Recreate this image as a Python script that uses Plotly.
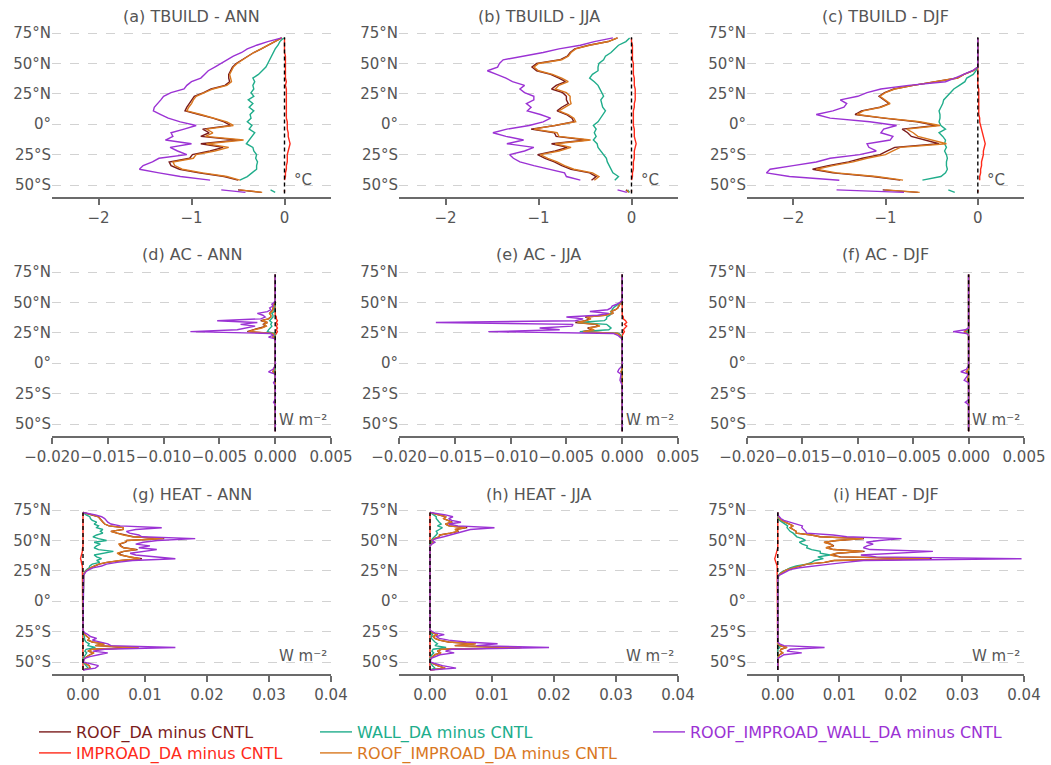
import plotly.graph_objects as go

# ---------------- data ----------------
NAMES = ["ROOF_DA minus CNTL", "IMPROAD_DA minus CNTL", "WALL_DA minus CNTL",
         "ROOF_IMPROAD_DA minus CNTL", "ROOF_IMPROAD_WALL_DA minus CNTL"]
TITLES = ["(a) TBUILD - ANN", "(b) TBUILD - JJA", "(c) TBUILD - DJF",
          "(d) AC - ANN", "(e) AC - JJA", "(f) AC - DJF",
          "(g) HEAT - ANN", "(h) HEAT - JJA", "(i) HEAT - DJF"]
UNITS = ["°C", "W m⁻²", "W m⁻²"]
LAT_TICKS = [-50, -25, 0, 25, 50, 75]
LAT_LABELS = ["50°S", "25°S", "0°", "25°N", "50°N", "75°N"]
X_TICKS = [[-2, -1, 0],
           [-0.02, -0.015, -0.01, -0.005, 0.0, 0.005],
           [0.0, 0.01, 0.02, 0.03, 0.04]]
X_RANGES = [[-2.5, 0.5], [-0.02, 0.005], [-0.005, 0.04]]
ZERO_SPANS = [[-57, 71.5], [-56, 73], [-56.5, 73]]

LAT_T = [-56, -54, -50, -46, -43, -40, -37, -34, -31, -28, -25, -22, -19, -16, -13, -10,
         -7, -4, -1, 2, 5, 8, 11, 14, 17, 20, 23, 26, 29, 32, 35, 38, 41, 44, 47, 50,
         53, 56, 59, 62, 65, 68, 71]

a_roof = [-0.25, -0.50, None, -0.50, -0.65, -0.92, -1.13, -1.22, -1.24, -1.02, -0.99, -0.80, -0.66,
          -0.90, -0.50, -0.90, -0.81, -0.88, -0.58, -0.65, -0.77, -0.92, -1.07,
          -1.05, -1.02, -1.00, -0.97, -0.87, -0.79, -0.64, -0.59, -0.60, -0.60,
          -0.58, -0.56, -0.52, -0.46, -0.39, -0.33, -0.25, -0.18, -0.10, -0.03]
a_improad = [0.0, 0.0, None, 0.0, 0.01, 0.01, 0.02, 0.02, 0.03, 0.03, 0.03, 0.04, 0.05,
             0.06, 0.05, 0.04, 0.04, 0.03, 0.03, 0.03, 0.02, 0.02, 0.02,
             0.02, 0.02, 0.02, 0.02, 0.02, 0.02, 0.01, 0.02, 0.01, 0.01,
             0.01, 0.01, 0.01, 0.01, 0.01, 0.0, 0.0, 0.0, 0.0, 0.0]
a_wall = [-0.10, -0.15, None, -0.48, -0.40, -0.35, -0.30, -0.30, -0.29, -0.31, -0.30, -0.33, -0.34,
          -0.41, -0.38, -0.36, -0.32, -0.38, -0.35, -0.40, -0.36, -0.37, -0.33,
          -0.38, -0.34, -0.39, -0.33, -0.36, -0.33, -0.34, -0.32, -0.34, -0.28,
          -0.24, -0.20, -0.18, -0.16, -0.14, -0.12, -0.10, -0.07, -0.05, -0.01]
a_roofimp = [-0.24, -0.48, None, -0.48, -0.62, -0.88, -1.10, -1.18, -1.20, -0.98, -0.95, -0.75, -0.60,
             -0.84, -0.44, -0.85, -0.77, -0.84, -0.55, -0.62, -0.75, -0.90, -1.05,
             -1.03, -1.00, -0.98, -0.95, -0.85, -0.77, -0.62, -0.57, -0.58, -0.59,
             -0.57, -0.55, -0.51, -0.45, -0.38, -0.33, -0.25, -0.18, -0.10, -0.03]
a_all = [-0.42, -0.68, None, -0.80, -1.12, -1.35, -1.56, -1.52, -1.42, -1.35, -1.05, -1.15, -1.23,
         -1.00, -1.28, -1.20, -1.22, -1.08, -0.95, -1.12, -1.25, -1.33, -1.41,
         -1.40, -1.36, -1.33, -1.30, -1.22, -1.08, -1.05, -1.00, -0.90, -0.86,
         -0.82, -0.75, -0.68, -0.62, -0.55, -0.46, -0.40, -0.30, -0.18, -0.03]

b_roof = [-0.03, -0.06, None, -0.43, -0.38, -0.45, -0.65, -0.75, -0.83, -0.93, -1.01, -0.82, -0.69,
          -0.86, -0.48, -0.81, -0.83, -1.08, -0.82, -0.62, -0.64, -0.70, -0.80,
          -0.75, -0.68, -0.70, -0.70, -0.74, -0.86, -0.81, -0.71, -0.78, -0.87,
          -1.02, -1.07, -1.02, -0.77, -0.69, -0.66, -0.61, -0.46, -0.25, -0.15]
b_improad = [0.0, 0.0, None, 0.0, 0.01, 0.01, 0.02, 0.02, 0.02, 0.03, 0.03, 0.03, 0.04,
             0.05, 0.04, 0.03, 0.03, 0.03, 0.02, 0.02, 0.02, 0.02, 0.02,
             0.03, 0.03, 0.04, 0.04, 0.04, 0.04, 0.03, 0.03, 0.03, 0.02,
             0.02, 0.02, 0.02, 0.01, 0.01, 0.01, 0.01, 0.01, 0.0, 0.0]
b_wall = [-0.02, -0.04, None, -0.18, -0.14, -0.20, -0.22, -0.24, -0.26, -0.27, -0.30, -0.34, -0.36,
          -0.37, -0.41, -0.38, -0.40, -0.38, -0.41, -0.36, -0.33, -0.30, -0.28,
          -0.31, -0.32, -0.33, -0.30, -0.32, -0.34, -0.36, -0.40, -0.45, -0.42,
          -0.36, -0.36, -0.35, -0.30, -0.28, -0.22, -0.18, -0.14, -0.06, -0.02]
b_roofimp = [-0.03, -0.05, None, -0.40, -0.35, -0.42, -0.62, -0.72, -0.80, -0.90, -0.98, -0.78, -0.65,
             -0.82, -0.44, -0.78, -0.80, -1.05, -0.80, -0.60, -0.62, -0.68, -0.78,
             -0.72, -0.65, -0.66, -0.66, -0.70, -0.82, -0.78, -0.68, -0.75, -0.85,
             -1.00, -1.05, -1.00, -0.75, -0.68, -0.65, -0.60, -0.45, -0.25, -0.15]
b_all = [-0.05, -0.15, None, -0.55, -0.70, -0.72, -0.90, -1.05, -1.20, -1.27, -1.31, -1.15, -1.05,
         -1.34, -1.16, -1.35, -1.49, -1.34, -1.10, -0.95, -0.87, -0.98, -1.12,
         -1.08, -1.13, -1.05, -1.05, -1.15, -1.20, -1.15, -1.28, -1.35, -1.45,
         -1.55, -1.44, -1.42, -1.38, -1.15, -0.95, -0.78, -0.55, -0.40, -0.20]

c_roof = [-0.65, -1.03, None, -0.84, -1.14, -1.57, -1.79, -1.62, -1.40, -1.25, -1.06, -0.98, -0.90,
          -0.42, -0.56, -0.72, -0.76, -0.82, -0.45, -0.66, -1.02, -1.33, -1.26,
          -1.06, -0.96, -1.01, -1.07, -1.01, -0.91, -0.70, -0.45, -0.22, -0.15,
          -0.05, 0.0, 0.0, 0.0, 0.0, 0.0, 0.0, 0.0, 0.0, 0.0]
c_improad = [0.0, 0.0, None, 0.02, 0.02, 0.03, 0.03, 0.04, 0.04, 0.05, 0.06, 0.06, 0.07,
             0.08, 0.07, 0.06, 0.05, 0.04, 0.03, 0.02, 0.02, 0.01, 0.01,
             0.01, 0.01, 0.01, 0.01, 0.01, 0.01, 0.0, 0.0, 0.0, 0.0,
             0.0, 0.0, 0.0, 0.0, 0.0, 0.0, 0.0, 0.0, 0.0, 0.0]
c_wall = [-0.25, -0.32, None, -0.60, -0.40, -0.35, -0.33, -0.34, -0.34, -0.33, -0.34, -0.36, -0.34,
          -0.36, -0.35, -0.38, -0.42, -0.35, -0.40, -0.42, -0.41, -0.41, -0.42,
          -0.40, -0.38, -0.37, -0.33, -0.30, -0.26, -0.20, -0.14, -0.12, -0.05,
          -0.02, 0.0, 0.0, 0.0, 0.0, 0.0, 0.0, 0.0, 0.0, 0.0]
c_roofimp = [-0.63, -1.00, None, -0.81, -1.10, -1.53, -1.75, -1.57, -1.35, -1.20, -1.00, -0.92, -0.84,
             -0.34, -0.48, -0.65, -0.70, -0.77, -0.41, -0.63, -1.00, -1.31, -1.24,
             -1.05, -0.95, -1.00, -1.06, -1.00, -0.90, -0.70, -0.45, -0.22, -0.15,
             -0.05, 0.0, 0.0, 0.0, 0.0, 0.0, 0.0, 0.0, 0.0, 0.0]
c_all = [-0.80, -1.53, None, -1.50, -2.04, -2.29, -2.25, -2.00, -1.75, -1.60, -1.28, -1.10, -1.18,
         -1.20, -0.95, -0.92, -1.05, -1.02, -0.88, -1.17, -1.60, -1.75, -1.57,
         -1.45, -1.42, -1.49, -1.30, -1.20, -1.05, -0.75, -0.35, -0.25, -0.16,
         -0.06, 0.0, 0.0, 0.0, 0.0, 0.0, 0.0, 0.0, 0.0, 0.0]

LAT_AC = [-56, -34, -32, -30, -18, -16, -14, -9, -7, -5, -2, 10, 20, 21.5, 23, 24.5, 26, 27.5,
          29, 30.5, 32, 33.5, 35, 36.5, 38, 39.5, 41, 42.5, 44, 45.5, 47, 48.5, 50, 52, 60, 73]

d_roof = [0.0, 0.0, -0.00005, 0.0, 0.0, -0.00005, 0.0, 0.0, -0.0002, -0.0001, 0.0, 0.0, 0.0,
          -0.0002, -0.0001, -0.0002, -0.0025, -0.002, -0.0013, -0.0008, -0.0011, -0.0007, -0.0013,
          -0.0006, -0.0004, -0.0004, -0.0005, -0.0003, -0.0002, -0.0002, -0.0001, -0.0001, 0.0,
          0.0, 0.0, 0.0]
d_improad = [0.0] * 15 + [0.0001, 0.0002, 0.0001, 0.0002, 0.0001, 0.0002, 0.0001, 0.0002, 0.0001,
                          0.0001] + [0.0] * 11
d_wall = [0.0] * 8 + [-0.0001] + [0.0] * 4 + [
    -0.0001, 0.0, -0.0001, -0.0007, -0.0006, -0.0004, -0.0003, -0.0004, -0.0003, -0.0005,
    -0.0003, -0.0002, -0.0002, -0.0003, -0.0001, -0.0001, -0.0001, 0.0, 0.0, 0.0] + [0.0] * 3
d_roofimp = [0.0, 0.0, -0.00005, 0.0, 0.0, -0.00005, 0.0, 0.0, -0.0002, -0.0001, 0.0, 0.0, 0.0,
             -0.0002, -0.0001, -0.0002, -0.0024, -0.0019, -0.0012, -0.0008, -0.001, -0.0007, -0.0012,
             -0.0006, -0.0004, -0.0004, -0.0005, -0.0003, -0.0002, -0.0002, -0.0001, -0.0001, 0.0,
             0.0, 0.0, 0.0]
d_all = [0.0, 0.0, -0.00015, 0.0, 0.0, -0.00015, 0.0, 0.0, -0.0006, -0.0002, 0.0, 0.0, 0.0,
         -0.0006, -0.0002, -0.0004, -0.0076, -0.0034, -0.0025, -0.0018, -0.0031, -0.0016, -0.0052,
         -0.0013, -0.0009, -0.0011, -0.0016, -0.0007, -0.0004, -0.0005, -0.0002, -0.0003, -0.0001,
         0.0, 0.0, 0.0]

e_roof = [0.0] * 8 + [-0.0001] + [0.0] * 4 + [
    -0.0001, -0.0002, -0.0004, -0.0036, -0.0026, -0.0031, -0.0021, -0.0024, -0.0042, -0.0033,
    -0.0029, -0.0033, -0.0016, -0.0008, -0.001, -0.0006, -0.0004, -0.0003, -0.0002, -0.0001] + [0.0] * 3
e_improad = [0.0] * 15 + [0.0001, 0.0002, 0.0001, 0.0003, 0.0004, 0.0002, 0.0004, 0.0003, 0.0001,
                          0.0001] + [0.0] * 11
e_wall = [0.0] * 13 + [
    -0.0001, -0.0001, -0.0003, -0.0038, -0.0012, -0.001, -0.0012, -0.0014, -0.004, -0.0016,
    -0.0014, -0.0014, -0.0011, -0.001, -0.001, -0.0009, -0.0008, -0.0006, -0.0003, -0.0001] + [0.0] * 3
e_roofimp = [0.0] * 8 + [-0.0001] + [0.0] * 4 + [
    -0.0001, -0.0002, -0.0004, -0.0035, -0.0025, -0.003, -0.002, -0.0023, -0.004, -0.0032,
    -0.0028, -0.0032, -0.0015, -0.0008, -0.001, -0.0006, -0.0004, -0.0003, -0.0002, -0.0001] + [0.0] * 3
e_all = [0.0, 0.0, 0.0, 0.0, 0.0, -0.0001, -0.0002, -0.0001, -0.0004, -0.0003, 0.0, 0.0, 0.0,
         -0.0002, -0.0004, -0.0008, -0.012, -0.0056, -0.0074, -0.0045, -0.0044, -0.0167, -0.0042,
         -0.0035, -0.005, -0.0022, -0.0012, -0.0029, -0.0013, -0.001, -0.0009, -0.0005, -0.0002,
         0.0, 0.0, 0.0]

f_roof = [0.0] * 6 + [-0.0001, 0.0, -0.0002] + [0.0] * 6 + [-0.0001, -0.0004, -0.0001] + [0.0] * 18
f_improad = [0.0] * 36
f_wall = [0.0] * 16 + [-0.0002] + [0.0] * 19
f_roofimp = [0.0] * 6 + [-0.0001, 0.0, -0.0002] + [0.0] * 6 + [-0.0001, -0.0004, -0.0001] + [0.0] * 18
f_all = [0.0, 0.0, -0.0003, 0.0, 0.0, 0.0, -0.0004, 0.0, -0.0007, -0.0002, 0.0, 0.0, 0.0, 0.0, 0.0,
         -0.0002, -0.0014, -0.0003] + [0.0] * 18

LAT_HEAT = [-56.5, -55, -53, -50, -47, -45.5, -44, -42.5, -41, -39.5, -38, -36.5, -35, -33.5, -32,
            -30.5, -29, -27.5, -26, -24, -10, 10, 20, 21.5, 23, 24.5, 26, 27.5, 29, 30.5, 32, 33.5,
            35, 36.5, 38, 39.5, 41, 42.5, 44, 45.5, 47, 48.5, 50, 51.5, 53, 54.5, 56, 57.5, 59,
            60.5, 62, 63.5, 65, 66.5, 68, 69.5, 71, 73]

g_roof = [0.0, 0.0011, 0.001, 0.0, 0.0002, 0.0006, 0.0011, 0.0017, 0.0008, 0.0014, 0.0088, 0.002,
          0.0034, 0.0015, 0.0008, 0.001, 0.0006, 0.0003, 0.0001, 0.0, 0.0, 0.0, 0.0,
          0.0001, 0.0002, 0.0004, 0.0008, 0.0012, 0.0019, 0.0026, 0.0039, 0.0062, 0.0095, 0.0074,
          0.0062, 0.0057, 0.0066, 0.0088, 0.0066, 0.0061, 0.0059, 0.0069, 0.0071, 0.0131, 0.0081,
          0.0065, 0.0055, 0.0045, 0.0065, 0.0065, 0.0042, 0.0035, 0.0032, 0.003, 0.0027, 0.0025,
          0.0015, 0.0]
g_improad = [0.0] * 28 + [-0.0001, -0.0002, -0.0002, -0.0003, -0.0004, -0.0003, -0.0002, -0.0002,
                          -0.0001, -0.0001] + [0.0] * 20
g_wall = [0.0, 0.0008, 0.0005, 0.0, 0.0, 0.0002, 0.0004, 0.0006, 0.0003, 0.0005, 0.002, 0.0008,
          0.001, 0.0005, 0.0003, 0.0003, 0.0002, 0.0001, 0.0, 0.0, 0.0, 0.0, 0.0,
          0.0001, 0.0002, 0.0003, 0.0006, 0.001, 0.0011, 0.0015, 0.0027, 0.0022, 0.003, 0.0022,
          0.0018, 0.0035, 0.0049, 0.0025, 0.0018, 0.0022, 0.0028, 0.0018, 0.0038, 0.0025, 0.0016,
          0.0022, 0.0032, 0.0028, 0.0032, 0.0022, 0.0025, 0.0018, 0.0022, 0.0015, 0.0012, 0.0011,
          0.0005, 0.0]
g_roofimp = [0.0, 0.0012, 0.001, 0.0, 0.0002, 0.0006, 0.0012, 0.0018, 0.0008, 0.0015, 0.009, 0.002,
             0.0035, 0.0015, 0.0008, 0.001, 0.0006, 0.0003, 0.0001, 0.0, 0.0, 0.0, 0.0,
             0.0001, 0.0002, 0.0004, 0.0008, 0.0012, 0.0019, 0.0025, 0.0038, 0.006, 0.0092, 0.0072,
             0.006, 0.0055, 0.0065, 0.0086, 0.0065, 0.006, 0.0058, 0.0068, 0.007, 0.013, 0.008,
             0.0065, 0.0055, 0.0045, 0.0065, 0.0065, 0.0042, 0.0035, 0.0032, 0.003, 0.0027, 0.0025,
             0.0015, 0.0]
g_all = [0.0, 0.002, 0.0025, 0.0, 0.0003, 0.0011, 0.0025, 0.004, 0.0016, 0.0035, 0.0149, 0.0045,
         0.004, 0.0028, 0.0015, 0.0022, 0.0012, 0.0008, 0.0003, 0.0, 0.0, 0.0, 0.0,
         0.0001, 0.0003, 0.0005, 0.001, 0.0016, 0.003, 0.0038, 0.0055, 0.008, 0.0149, 0.011,
         0.0085, 0.0076, 0.0095, 0.0119, 0.009, 0.0108, 0.0085, 0.0097, 0.012, 0.0181, 0.0095,
         0.009, 0.0075, 0.007, 0.0085, 0.0127, 0.006, 0.0045, 0.004, 0.0038, 0.0035, 0.003,
         0.002, 0.0]

h_roof = [0.0, 0.0024, 0.0012, 0.0, 0.0001, 0.0004, 0.0008, 0.0017, 0.0012, 0.0018, 0.0145, 0.004,
          0.0072, 0.003, 0.0015, 0.0008, 0.0005, 0.0012, 0.0004, 0.0] + [0.0] * 20 + [
    0.0002, 0.0005, 0.0003, 0.0007, 0.0015, 0.0016, 0.0033, 0.0046, 0.0041, 0.006, 0.0031, 0.0025,
    0.0036, 0.0028, 0.0022, 0.0026, 0.0015] + [0.0]
h_improad = [0.0] * 58
h_wall = [0.0, 0.0008, 0.0004, 0.0, 0.0, 0.0001, 0.0003, 0.0006, 0.0003, 0.0005, 0.0026, 0.0008,
          0.0012, 0.0008, 0.0005, 0.0002, 0.0002, 0.0004, 0.0001, 0.0] + [0.0] * 21 + [
    0.0002, 0.0002, 0.0004, 0.0008, 0.001, 0.0012, 0.001, 0.0015, 0.002, 0.0012, 0.0018, 0.0015,
    0.0012, 0.001, 0.001, 0.0005] + [0.0]
h_roofimp = [0.0, 0.0025, 0.0012, 0.0, 0.0001, 0.0004, 0.0008, 0.0018, 0.0012, 0.0018, 0.0148, 0.004,
             0.0074, 0.003, 0.0015, 0.0008, 0.0005, 0.0012, 0.0004, 0.0] + [0.0] * 20 + [
    0.0002, 0.0005, 0.0003, 0.0007, 0.0015, 0.0015, 0.0032, 0.0045, 0.004, 0.0058, 0.003, 0.0025,
    0.0035, 0.0028, 0.0022, 0.0026, 0.0015] + [0.0]
h_all = [0.0, 0.0042, 0.002, 0.0, 0.0002, 0.0008, 0.0016, 0.0039, 0.0025, 0.0035, 0.0192, 0.0075,
         0.0109, 0.0058, 0.003, 0.0015, 0.001, 0.0023, 0.0008, 0.0] + [0.0] * 20 + [
    0.0003, 0.0008, 0.0004, 0.001, 0.0022, 0.0034, 0.0045, 0.0058, 0.0065, 0.0104, 0.0045, 0.003,
    0.005, 0.0035, 0.003, 0.0037, 0.0025] + [0.0]

i_roof = [0.0, 0.0, 0.0, 0.0, 0.0, 0.0001, 0.0003, 0.0008, 0.0004, 0.0005, 0.0015, 0.0003, 0.0, 0.0,
          0.0, 0.0, 0.0, 0.0, 0.0, 0.0] + [0.0] * 3 + [
    0.0002, 0.0005, 0.001, 0.0015, 0.0025, 0.0039, 0.0048, 0.0077, 0.0092, 0.025, 0.0102, 0.0087,
    0.0097, 0.0141, 0.0091, 0.0079, 0.0091, 0.0086, 0.0076, 0.0096, 0.014, 0.0069, 0.0055, 0.003,
    0.003, 0.0025, 0.002, 0.0025, 0.0018, 0.001, 0.0006, 0.0003, 0.0001, 0.0] + [0.0]
i_improad = [0.0] * 28 + [-0.0001, -0.0002, -0.0003, -0.0004, -0.0005, -0.0004, -0.0003, -0.0002,
                          -0.0001] + [0.0] * 21
i_wall = [0.0] * 7 + [0.0001, 0.0, 0.0, 0.0003] + [0.0] * 9 + [0.0] * 3 + [
    0.0001, 0.0004, 0.0008, 0.0015, 0.002, 0.003, 0.0047, 0.0055, 0.006, 0.0074, 0.0065, 0.0085,
    0.0069, 0.0069, 0.0055, 0.0047, 0.0048, 0.004, 0.0035, 0.0045, 0.004, 0.0031, 0.0028, 0.0025,
    0.002, 0.0018, 0.0015, 0.0016, 0.0012, 0.0006, 0.0003, 0.0001, 0.0, 0.0] + [0.0]
i_roofimp = [0.0, 0.0, 0.0, 0.0, 0.0, 0.0001, 0.0003, 0.0008, 0.0004, 0.0005, 0.0015, 0.0003, 0.0,
             0.0, 0.0, 0.0, 0.0, 0.0, 0.0, 0.0] + [0.0] * 3 + [
    0.0002, 0.0005, 0.001, 0.0015, 0.0025, 0.0038, 0.0047, 0.0075, 0.009, 0.0247, 0.01, 0.0085,
    0.0095, 0.0139, 0.009, 0.0078, 0.009, 0.0085, 0.0075, 0.0095, 0.0139, 0.0068, 0.0055, 0.003,
    0.003, 0.0025, 0.002, 0.0025, 0.0018, 0.001, 0.0006, 0.0003, 0.0001, 0.0] + [0.0]
i_all = [0.0, 0.0, 0.0, 0.0, 0.0, 0.0005, 0.001, 0.0039, 0.0015, 0.002, 0.0076, 0.001, 0.0003, 0.0,
         0.0, 0.0, 0.0, 0.0, 0.0, 0.0] + [0.0] * 3 + [
    0.0003, 0.0008, 0.0015, 0.002, 0.0035, 0.0065, 0.0085, 0.011, 0.0139, 0.0396, 0.016, 0.0135,
    0.0188, 0.0252, 0.015, 0.0139, 0.0145, 0.0155, 0.0144, 0.0165, 0.0201, 0.0112, 0.009, 0.0047,
    0.0045, 0.0042, 0.0039, 0.004, 0.003, 0.0018, 0.001, 0.0005, 0.0002, 0.0] + [0.0]

PANELS = [
    (LAT_T, [a_roof, a_improad, a_wall, a_roofimp, a_all]),
    (LAT_T, [b_roof, b_improad, b_wall, b_roofimp, b_all]),
    (LAT_T, [c_roof, c_improad, c_wall, c_roofimp, c_all]),
    (LAT_AC, [d_roof, d_improad, d_wall, d_roofimp, d_all]),
    (LAT_AC, [e_roof, e_improad, e_wall, e_roofimp, e_all]),
    (LAT_AC, [f_roof, f_improad, f_wall, f_roofimp, f_all]),
    (LAT_HEAT, [g_roof, g_improad, g_wall, g_roofimp, g_all]),
    (LAT_HEAT, [h_roof, h_improad, h_wall, h_roofimp, h_all]),
    (LAT_HEAT, [i_roof, i_improad, i_wall, i_roofimp, i_all]),
]

# ---------------- style / layout ----------------
W, H = 1051, 765
FONT = "DejaVu Sans"
COLORS = ["#7b1c1c", "#ff2a1a", "#20ad8b", "#d9781f", "#9b32d4"]
TXT = "#555555"
AXC = "#6b6b6b"
COL_PX = [(52, 331), (399, 678), (747, 1024)]
ROW_PX = [(29.4, 197.2), (268.4, 436.2), (506.4, 674.2)]
LEG_PX = [(34, 732), (34, 753), (315, 732), (315, 753), (648, 732)]
LEG_IDS = ["legend", "legend2", "legend3", "legend4", "legend5"]
TITLE_Y = [16, 255, 494]

fig = go.Figure()
layout = dict(width=W, height=H, margin=dict(l=0, r=0, t=0, b=0, autoexpand=False),
              paper_bgcolor="white", plot_bgcolor="white",
              font=dict(family=FONT, color=TXT), annotations=[])

for p, (lats, series) in enumerate(PANELS):
    r, c = divmod(p, 3)
    sfx = "" if p == 0 else str(p + 1)
    for s, vals in enumerate(series):
        assert len(vals) == len(lats), (p, s, len(vals), len(lats))
        fig.add_trace(go.Scatter(
            x=vals, y=lats, mode="lines", name=NAMES[s],
            line=dict(color=COLORS[s], width=1.4),
            xaxis="x" + sfx, yaxis="y" + sfx,
            showlegend=(p == 0), legend=LEG_IDS[s], hoverinfo="skip"))
    fig.add_trace(go.Scatter(
        x=[0, 0], y=ZERO_SPANS[r], mode="lines",
        line=dict(color="black", width=1.4, dash="4px,3px"),
        xaxis="x" + sfx, yaxis="y" + sfx, showlegend=False, hoverinfo="skip"))

    x0, x1 = COL_PX[c]
    y0, y1 = ROW_PX[r]
    xfmt = [None, ".3f", ".2f"][r]
    layout["xaxis" + sfx] = dict(
        domain=[x0 / W, x1 / W], range=X_RANGES[r], anchor="y" + sfx,
        tickvals=X_TICKS[r], tickformat=xfmt, tickangle=0, automargin=False,
        showgrid=False, zeroline=False,
        showline=True, linecolor=AXC, linewidth=2, ticks="outside", ticklen=6,
        tickwidth=2, tickcolor=AXC, tickfont=dict(size=15, color=TXT, family=FONT))
    layout["yaxis" + sfx] = dict(
        domain=[1 - y1 / H, 1 - y0 / H], range=[-60, 78], anchor="x" + sfx,
        tickvals=LAT_TICKS, ticktext=LAT_LABELS, showgrid=True, gridcolor="#d2d2d2",
        gridwidth=1, griddash="dash", zeroline=False, showline=False, ticks="",
        automargin=False, tickfont=dict(size=15, color=TXT, family=FONT))
    layout["annotations"].append(dict(
        text=TITLES[p], x=(x0 + x1) / 2 / W, y=1 - TITLE_Y[r] / H, xref="paper", yref="paper",
        xanchor="center", yanchor="middle", showarrow=False,
        font=dict(size=16, color=TXT, family=FONT)))
    layout["annotations"].append(dict(
        text=UNITS[r], x=0.9, y=[0.1, 0.095, 0.107][r], xref="x" + sfx + " domain",
        yref="y" + sfx + " domain", xanchor="center", yanchor="middle", showarrow=False,
        font=dict(size=15, color=TXT, family=FONT)))

for s, lid in enumerate(LEG_IDS):
    lx, ly = LEG_PX[s]
    layout[lid] = dict(x=lx / W, y=1 - ly / H, xref="container", yref="container",
                       xanchor="left", yanchor="middle", orientation="v",
                       bgcolor="rgba(0,0,0,0)", borderwidth=0, itemwidth=32,
                       font=dict(size=16, color=COLORS[s], family=FONT))

fig.update_layout(**layout)
fig.write_html("out.html", config={"displayModeBar": False},
               post_script="document.body.style.margin='0';")
